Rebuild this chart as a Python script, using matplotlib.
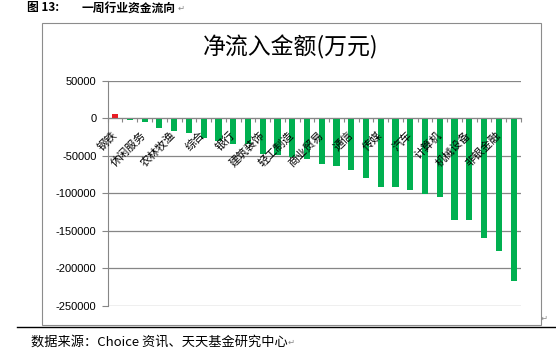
import matplotlib
matplotlib.use('Agg')
import matplotlib.pyplot as plt
from matplotlib.patches import Rectangle
from matplotlib.lines import Line2D

plt.rcParams['font.family'] = ['Noto Sans CJK SC', 'DejaVu Sans']
plt.rcParams['axes.unicode_minus'] = False

# net inflow per industry (10k yuan), sorted high -> low
# only every other category label is printed on the original chart
industries = ['钢铁', '', '休闲服务', '', '农林牧渔', '', '综合', '', '银行', '',
              '建筑装饰', '', '轻工制造', '', '商业贸易', '', '通信', '', '传媒', '',
              '汽车', '', '计算机', '', '机械设备', '', '非银金融', '']
net_inflow = [5500, -1800, -4500, -12500, -16800, -19000, -25700, -30100, -33700, -34500,
              -47000, -49000, -51000, -54400, -61500, -64200, -69500, -79600, -92000, -92000,
              -95500, -101000, -105000, -136000, -136000, -159500, -176500, -216500]
y_ticks = [50000, 0, -50000, -100000, -150000, -200000, -250000]

W, H = 556, 356
fig = plt.figure(figsize=(W / 100, H / 100), dpi=100)

# chart frame and page decorations
fig.patches.append(Rectangle((42 / W, 1 - 325 / H), (541 - 42) / W, (325 - 23) / H,
                             transform=fig.transFigure, fill=False, edgecolor='#8c8c8c', lw=0.8))
fig.lines.append(Line2D([17 / W, 1.0], [1 - 327 / H, 1 - 327 / H], transform=fig.transFigure,
                        color='black', lw=1.0))
fig.text(27 / W, 1 - 8 / H, '图 13:', fontsize=8.5, weight='bold', va='center')
fig.text(82 / W, 1 - 8 / H, '一周行业资金流向', fontsize=8.5, weight='bold', va='center')
fig.text(178 / W, 1 - 8 / H, '↵', fontsize=6, color='#888888', va='center')
fig.text(31 / W, 1 - 342 / H, '数据来源：Choice 资讯、天天基金研究中心', fontsize=9.5,
         style='italic', va='center')
fig.text(288 / W, 1 - 342 / H, '↵', fontsize=6, color='#888888', va='center')
fig.text(541 / W, 1 - 318 / H, '↵', fontsize=6, color='#888888', va='center')
fig.text(291 / W, 1 - 47 / H, '净流入金额(万元)', fontsize=16.5, ha='center', va='center')

ax = fig.add_axes([107.7 / W, 1 - 306 / H, (521 - 107.7) / W, (306 - 80.7) / H])

xs = list(range(len(net_inflow)))
colors = ['#E81C24' if v > 0 else '#00B050' for v in net_inflow]
ax.bar(xs, net_inflow, width=0.42, color=colors, zorder=2)

ax.set_xlim(-0.5, len(net_inflow) - 0.5)
ax.set_ylim(-250000, 50000)
ax.set_yticks(y_ticks)
ax.set_yticklabels([str(t) for t in y_ticks], fontsize=8, family='Liberation Sans')
# gridlines behind the bars, axis (and its labels) drawn on top of them
for t in y_ticks:
    ax.axhline(t, color='#868686', lw=0.9, zorder=0)
ax.set_axisbelow(False)

ax.spines['top'].set_visible(False)
ax.spines['right'].set_visible(False)
ax.spines['left'].set_color('#868686')
ax.spines['bottom'].set_position(('data', 0))
ax.spines['bottom'].set_color('#868686')

ax.tick_params(axis='y', direction='out', length=4, width=0.8, color='#868686', pad=4)

shown = [i for i in xs if industries[i]]
ax.set_xticks(shown)
ax.set_xticklabels([industries[i] for i in shown], fontsize=8, rotation=45,
                   ha='right', va='center', rotation_mode='anchor')
ax.set_xticks([i + 0.5 for i in xs[:-1]] + [-0.5, len(xs) - 0.5], minor=True)
ax.tick_params(axis='x', which='major', length=0, pad=11)
ax.tick_params(axis='x', which='minor', direction='out', length=3, width=0.8, color='#868686')

fig.savefig('out.png', dpi=100)
